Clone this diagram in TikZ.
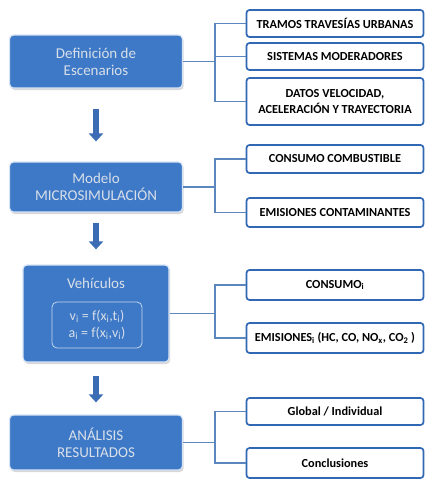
\documentclass[tikz,border=0pt]{standalone}
\usepackage{fontspec}
\setmainfont{Carlito}
\usepackage{xcolor}
\usepackage{tikz}
\usetikzlibrary{shapes,arrows,arrows.meta,positioning,shadows}

\definecolor{stageblue}{RGB}{62,121,199}
\definecolor{stagetext}{RGB}{216,223,233}
\definecolor{itemblue}{RGB}{48,104,180}
\definecolor{linkblue}{RGB}{92,135,190}
\definecolor{flowblue}{RGB}{60,108,180}

\begin{document}
\begin{tikzpicture}[x=1pt, y=-1pt,
    stage/.style={rectangle, draw=white!80!stageblue, line width=1.2pt, fill=stageblue, text=stagetext, font=\fontsize{15}{17}\selectfont, align=center, minimum width=173pt, rounded corners=4pt, drop shadow={shadow xshift=1.2pt, shadow yshift=-2pt, fill=black!30}},
    formula/.style={rectangle, draw=white!70!stageblue, line width=0.8pt, fill=stageblue, text=stagetext, font=\fontsize{14}{17}\selectfont, align=center, minimum width=90pt, minimum height=46pt, rounded corners=5pt, inner sep=1pt},
    item/.style={rectangle, draw=itemblue, line width=1.7pt, fill=white, font=\bfseries\fontsize{12.3}{16}\selectfont, align=center, minimum width=177pt, minimum height=28pt, rounded corners=3pt, inner sep=1pt},
    link/.style={draw=linkblue, line width=1.1pt},
    flow/.style={draw=flowblue, line width=6pt, -{Triangle[width=14pt,length=8pt]}}
]
\useasboundingbox (0,0) rectangle (427,483);

% Stages - left column
\node[stage, minimum height=53pt] (escenarios) at (96, 61.5) {Definición de\\Escenarios};
\node[stage, minimum height=50pt] (modelo) at (96, 187) {Modelo\\MICROSIMULACIÓN};
\node[stage, minimum width=146pt, minimum height=97pt] (vehiculos) at (96, 313.5) {};
\node[text=stagetext, font=\fontsize{15}{17}\selectfont] (vehtitle) at (96, 283) {Vehículos};
\node[formula] (ecuaciones) at (97, 325) {v\textsubscript{i} = f(x\textsubscript{i},t\textsubscript{i})\\a\textsubscript{i} = f(x\textsubscript{i},v\textsubscript{i})};
\node[stage, minimum height=55pt] (analisis) at (96, 442.5) {ANÁLISIS\\RESULTADOS};

% Flow arrows between stages
\draw[flow, shorten <=20pt, shorten >=20pt] (escenarios.south) -- (modelo.north);
\draw[flow, shorten <=10pt, shorten >=15pt] (modelo.south) -- (vehiculos.north);
\draw[flow, shorten <=13pt, shorten >=12pt] (vehiculos.south) -- (analisis.north);

% Items - right column
\node[item, minimum height=27pt] (tramos) at (335, 23.5) {TRAMOS TRAVESÍAS URBANAS};
\node[item, minimum height=27pt] (sistemas) at (335, 56.5) {SISTEMAS MODERADORES};
\node[item, minimum height=47pt] (datos) at (335, 101.5) {DATOS VELOCIDAD,\\ACELERACIÓN Y TRAYECTORIA};

\node[item] (combustible) at (335, 159) {CONSUMO COMBUSTIBLE};
\node[item, minimum height=29pt] (contaminantes) at (335, 212.5) {EMISIONES CONTAMINANTES};

\node[item, minimum height=30pt] (consumo) at (335, 285) {CONSUMO\textsubscript{i}};
\node[item, minimum height=30pt] (emisiones) at (335, 338) {EMISIONES\textsubscript{i} (HC, CO, NO\textsubscript{x}, CO\textsubscript{2} )};

\node[item, minimum height=27pt] (global) at (335, 411.5) {Global / Individual};
\node[item, minimum height=30pt] (conclusiones) at (335, 463) {Conclusiones};

% Junctions of the brackets
\coordinate (j1) at (215, 61.5);
\coordinate (j2) at (215, 187);
\coordinate (j3) at (215, 313.5);
\coordinate (j4) at (215, 442.5);

% Brackets
\draw[link] (escenarios.east) -- (j1);
\draw[link] (j1) |- (tramos.west);
\draw[link] (j1) |- (sistemas.west);
\draw[link] (j1) |- (datos.west);

\draw[link] (modelo.east) -- (j2);
\draw[link] (j2) |- (combustible.west);
\draw[link] (j2) |- (contaminantes.west);

\draw[link] (vehiculos.east) -- (j3);
\draw[link] (j3) |- (consumo.west);
\draw[link] (j3) |- (emisiones.west);

\draw[link] (analisis.east) -- (j4);
\draw[link] (j4) |- (global.west);
\draw[link] (j4) |- (conclusiones.west);

\end{tikzpicture}
\end{document}
